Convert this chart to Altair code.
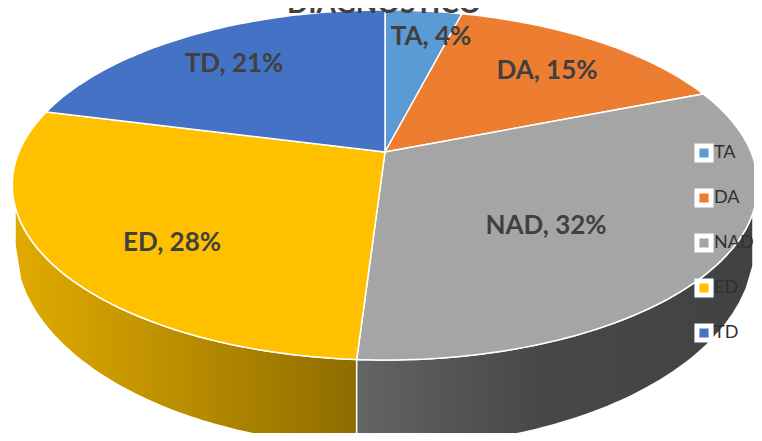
import math
import altair as alt
import pandas as pd

categories = ["TA", "DA", "NAD", "ED", "TD"]
shares = [4, 15, 32, 28, 21]
colors = ["#5B9BD5", "#ED7D31", "#A5A5A5", "#FFC000", "#4472C4"]
title_text = "DIAGNÓSTICO"

# layout of the 3D perspective disc, in picture pixels
CX, CY, AX, BY, K = 385.0, 152.0, 366.0, 168.8, 0.1886
TOP_EL = (385.0, 185.0, 373.0, 175.0)
BOT_EL = (385.0, 245.0, 370.0, 202.0)
label_x = [431, 547, 546, 172, 234]
label_y = [37, 71, 226, 243, 64]


def disc(theta_deg):
    t = math.radians(theta_deg)
    u, v = math.sin(t), math.cos(t)
    d = 1 + K * v
    return CX + AX * u / d, CY - BY * v / d


def arc_on_ellipse(el, x0, x1, n=60):
    cx, cy, rx, ry = el
    pts = []
    for i in range(n + 1):
        x = x0 + (x1 - x0) * i / n
        w = max(0.0, 1 - ((x - cx) / rx) ** 2)
        pts.append((x, cy + ry * math.sqrt(w)))
    return pts


rows = []
cum = 0.0
ends = {}
for cat, share in zip(categories, shares):
    a0, a1 = cum * 3.6, (cum + share) * 3.6
    cum += share
    ends[cat] = a1
    poly = [(CX, CY)]
    n = max(8, int(share * 3))
    for i in range(n + 1):
        poly.append(disc(a0 + (a1 - a0) * i / n))
    poly.append((CX, CY))
    for j, (x, y) in enumerate(poly):
        rows.append({"cat": cat, "x": x, "y": y, "o": j})
sectors = pd.DataFrame(rows)

# side walls: front rim of the disc down to the lower rim
split_x, split_y = disc(ends["NAD"])
left_top = (14.0, 212.0)
right_top = (755.0, 212.0)


def wall(x0, x1):
    top = arc_on_ellipse(TOP_EL, x0, x1)
    bot = arc_on_ellipse(BOT_EL, x1, x0)
    pts = top + bot + [top[0]]
    return pd.DataFrame([{"x": x, "y": y, "o": i} for i, (x, y) in enumerate(pts)])


wall_ed = wall(left_top[0] + 1, split_x)
wall_nad = wall(split_x, right_top[0] - 2)

X = alt.X("x:Q", scale=alt.Scale(domain=[8, 754], nice=False, zero=False), axis=None)
Y = alt.Y("y:Q", scale=alt.Scale(domain=[433, 8], nice=False, zero=False), axis=None)


def grad(stops):
    return alt.Gradient(
        gradient="linear", x1=0, x2=1, y1=0, y2=0,
        stops=[alt.GradientStop(offset=o, color=c) for o, c in stops],
    )


w1 = alt.Chart(wall_ed).mark_line(
    fill=grad([(0, "#E0AA00"), (0.5, "#B98D00"), (1, "#8E6C00")]),
    stroke="#ffffff", strokeWidth=1.5, clip=True,
).encode(x=X, y=Y, order="o:Q")
w2 = alt.Chart(wall_nad).mark_line(
    fill=grad([(0, "#646464"), (0.45, "#484848"), (1, "#424242")]),
    stroke="#ffffff", strokeWidth=1.5, clip=True,
).encode(x=X, y=Y, order="o:Q")

tops = alt.Chart(sectors).mark_line(stroke="#ffffff", strokeWidth=1.5, clip=True).encode(
    x=X, y=Y, order="o:Q", detail="cat:N",
    fill=alt.Fill(
        "cat:N",
        sort=categories,
        scale=alt.Scale(domain=categories, range=colors),
        legend=alt.Legend(
            orient="none", legendX=686, legendY=135, title=None,
            symbolType="square", symbolSize=200, symbolStrokeColor="#ffffff",
            symbolStrokeWidth=5, symbolOpacity=1, labelFont="Lato", labelFontSize=18,
            labelColor="#303030", labelOffset=0, rowPadding=9, labelLimit=80,
        ),
    ),
)

labels_df = pd.DataFrame({
    "x": label_x, "y": label_y,
    "t": [f"{c}, {s}%" for c, s in zip(categories, shares)],
})
labels = alt.Chart(labels_df).mark_text(
    font="Lato", fontWeight="bold", fontSize=26, color="#404040"
).encode(x=X, y=Y, text="t:N")

title = alt.Chart(pd.DataFrame({"x": [384], "y": [13], "t": [title_text]})).mark_text(
    font="Lato", fontWeight="bold", fontSize=28, color="#404040", baseline="alphabetic"
).encode(x=X, y=Y, text="t:N")

chart = alt.layer(w1, w2, tops, labels, title).resolve_scale(fill="independent").properties(
    width=746, height=425, padding=0, autosize=alt.AutoSizeParams(type="none"),
    background="#ffffff",
).configure_view(stroke=None)

chart.save("out.html", embed_options={"renderer": "svg", "actions": False})
